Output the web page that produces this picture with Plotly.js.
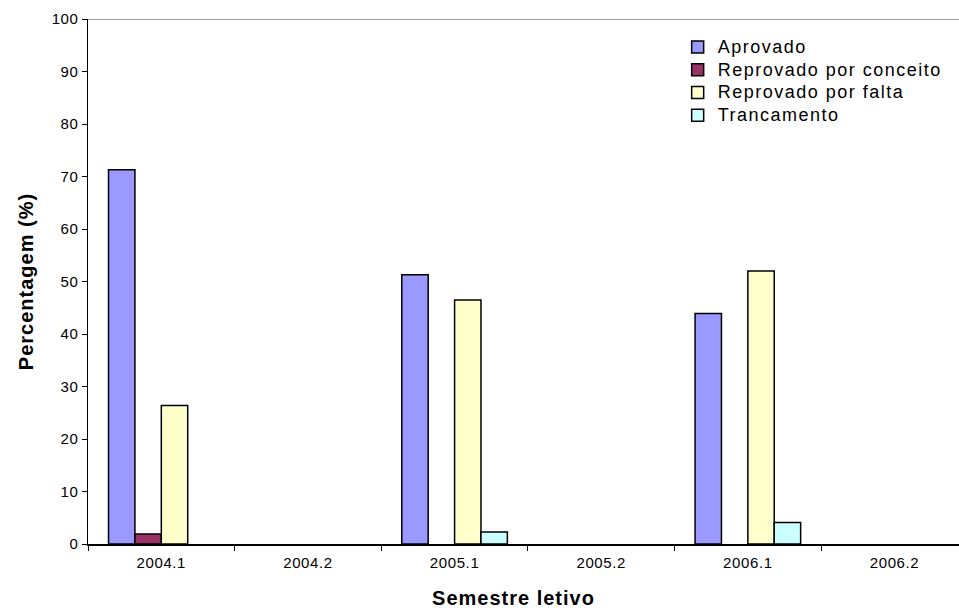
<!DOCTYPE html>
<html>
<head>
<meta charset="utf-8">
<script src="https://cdn.plot.ly/plotly-3.0.1.min.js"></script>
<style>
  html, body { margin: 0; padding: 0; background: #fff; overflow: hidden; }
  #chart { width: 959px; height: 612px; }
  /* tighter legend rows with larger, slightly spaced labels */
  #chart .legendtext { font-size: 18px !important; letter-spacing: 1.5px; }
  #chart .legend .scrollbox { clip-path: none !important; }
  #chart .xtick text, #chart .ytick text { letter-spacing: 0.6px; }
  #chart .g-xtitle text, #chart .g-ytitle text { letter-spacing: 1px; }
  #chart .g-xtitle { transform: translateX(-10px); }
</style>
</head>
<body>
<div id="chart"></div>
<script>
// Semesters on the x axis
const semestres = ['2004.1', '2004.2', '2005.1', '2005.2', '2006.1', '2006.2'];

// Percentage of students in each situation per semester (null = no data)
const aprovado            = [71.3, null, 51.3, null, 43.9, null];
const reprovadoConceito   = [1.9,  null, null, null, null, null];
const reprovadoFalta      = [26.4, null, 46.5, null, 52.0, null];
const trancamento         = [null, null, 2.3,  null, 4.1,  null];

const yTicks = [0, 10, 20, 30, 40, 50, 60, 70, 80, 90, 100];

const FONT = 'Liberation Sans, Arial, sans-serif';

function serie(name, values, color) {
  return {
    type: 'bar',
    name: name,
    x: semestres,
    y: values,
    marker: { color: color, line: { color: '#000000', width: 1.5 } },
    hoverinfo: 'x+y+name'
  };
}

const data = [
  serie('Aprovado', aprovado, '#9999FF'),
  serie('Reprovado por conceito', reprovadoConceito, '#993366'),
  serie('Reprovado por falta', reprovadoFalta, '#FFFFCC'),
  serie('Trancamento', trancamento, '#CCFFFF')
];

const layout = {
  width: 959,
  height: 612,
  margin: { l: 88, r: 0, t: 19, b: 68, pad: 0 },
  paper_bgcolor: '#ffffff',
  plot_bgcolor: '#ffffff',
  barmode: 'group',
  bargap: 0.28,
  bargroupgap: 0,
  font: { family: FONT, color: '#000000' },
  xaxis: {
    type: 'category',
    range: [-0.5, 5.44],
    tickson: 'boundaries',
    ticks: 'outside',
    ticklen: 5,
    tickwidth: 1,
    tickcolor: '#000000',
    ticklabelstandoff: 4,
    showline: true,
    linecolor: '#000000',
    linewidth: 1.5,
    showgrid: false,
    zeroline: false,
    tickfont: { family: FONT, size: 15, color: '#000000' },
    title: {
      text: 'Semestre letivo',
      font: { family: FONT, size: 20, color: '#000000', weight: 'bold' },
      standoff: 21
    },
    fixedrange: true
  },
  yaxis: {
    range: [0, 100],
    tickvals: yTicks,
    ticktext: yTicks.map(String),
    ticks: 'outside',
    ticklen: 5,
    tickwidth: 1,
    tickcolor: '#000000',
    showline: true,
    linecolor: '#000000',
    linewidth: 1.5,
    showgrid: false,
    zeroline: false,
    tickfont: { family: FONT, size: 15, color: '#000000' },
    title: {
      text: 'Percentagem (%)',
      font: { family: FONT, size: 20, color: '#000000', weight: 'bold' },
      standoff: 14
    },
    fixedrange: true
  },
  shapes: [
    {
      type: 'line', xref: 'paper', yref: 'y',
      x0: 0, x1: 1, y0: 100, y1: 100,
      line: { color: '#808080', width: 1.5 }
    }
  ],
  legend: {
    x: 0.677, y: 0.978,
    xanchor: 'left', yanchor: 'top',
    bgcolor: 'rgba(255,255,255,0)',
    borderwidth: 0,
    font: { family: FONT, size: 15.2, color: '#000000' },
    tracegroupgap: 0,
    itemclick: false,
    itemdoubleclick: false
  },
  showlegend: true
};

Plotly.newPlot('chart', data, layout, { displayModeBar: false, staticPlot: true });
</script>
</body>
</html>
